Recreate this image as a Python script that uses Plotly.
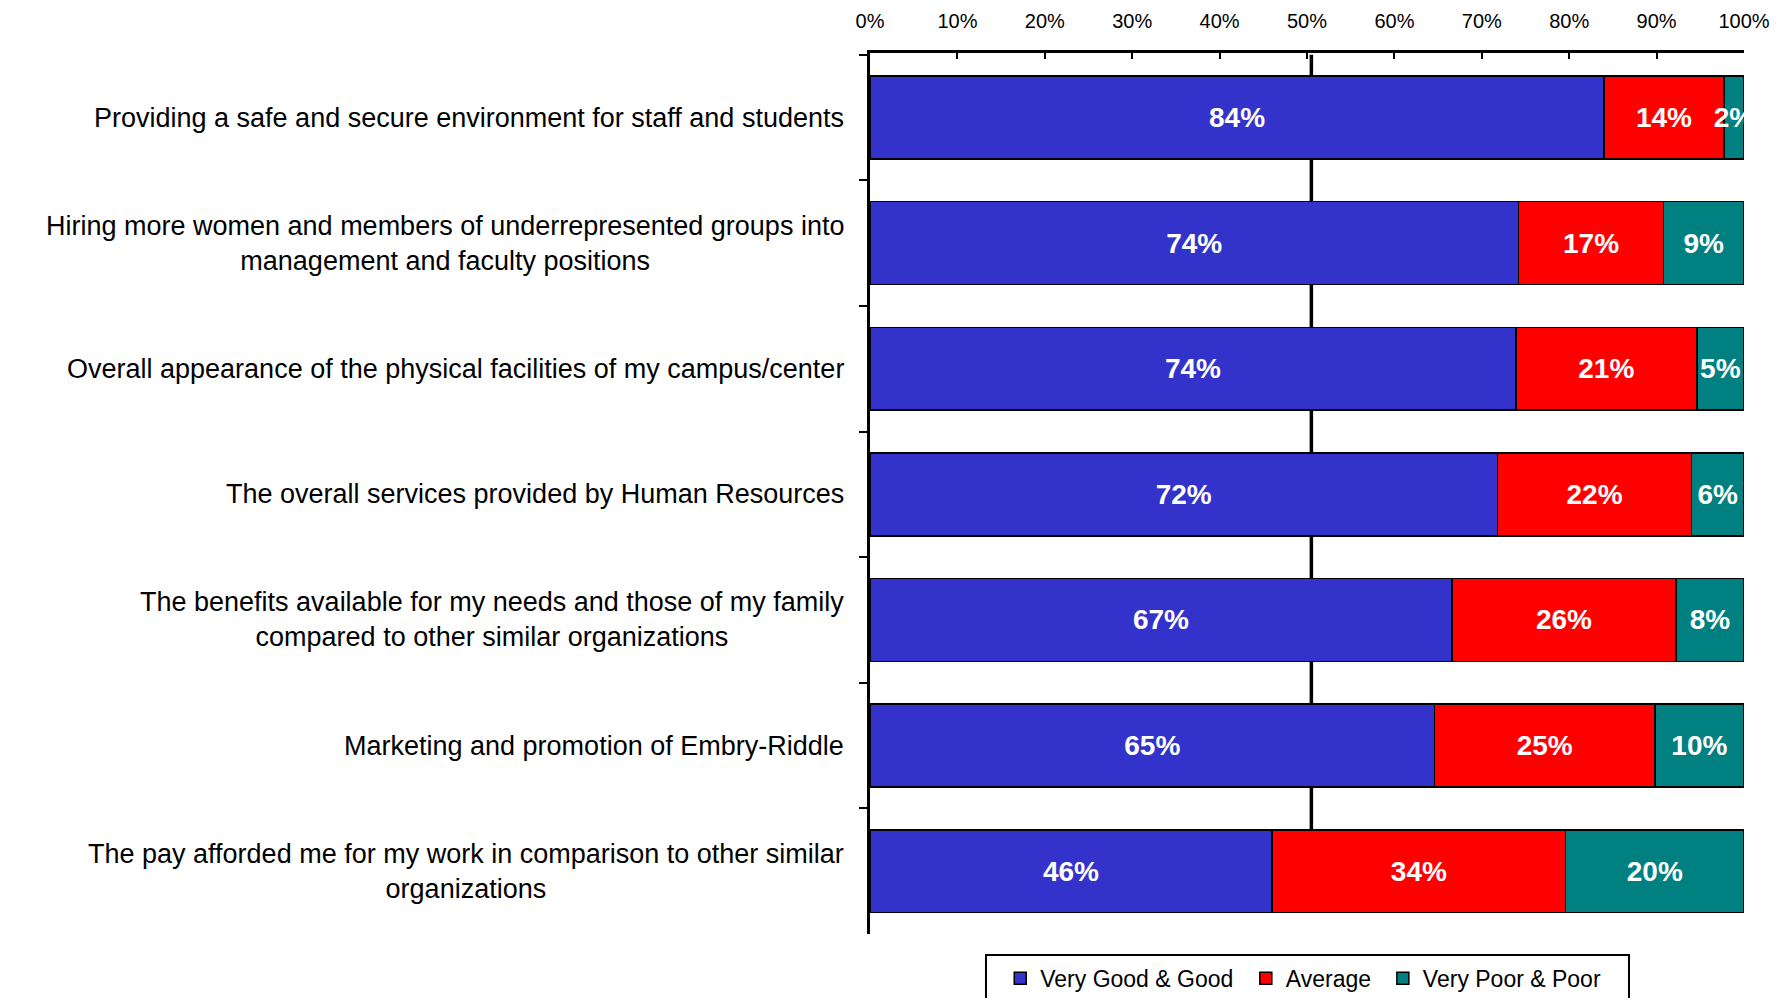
import plotly.graph_objects as go

categories = [
    "Providing a safe and secure environment for staff and students",
    "Hiring more women and members of underrepresented groups into<br>management and faculty positions",
    "Overall appearance of the physical facilities of my campus/center",
    "The overall services provided by Human Resources",
    "The benefits available for my needs and those of my family<br>compared to other similar organizations",
    "Marketing and promotion of Embry-Riddle",
    "The pay afforded me for my work in comparison to other similar<br>organizations",
]
series_names = ["Very Good & Good", "Average", "Very Poor & Poor"]
very_good_good = [84.0, 74.2, 73.9, 71.8, 66.6, 64.6, 46.0]
average = [13.7, 16.6, 20.7, 22.2, 25.6, 25.2, 33.6]
very_poor_poor = [2.3, 9.2, 5.4, 6.0, 7.8, 10.2, 20.4]
x_ticks = [0, 10, 20, 30, 40, 50, 60, 70, 80, 90, 100]
x_tick_labels = [f"{t}%" for t in x_ticks]

colors = ["#3333CC", "#FF0000", "#008080"]
legend_ids = ["legend", "legend2", "legend3"]
legend_x = [0.1490, 0.4300, 0.5868]
cat_ids = [f"c{i}" for i in range(len(categories))]
FONT = "Liberation Sans, Arial, sans-serif"

fig = go.Figure()
for name, vals, col, lg in zip(series_names, [very_good_good, average, very_poor_poor], colors, legend_ids):
    fig.add_trace(go.Bar(
        y=cat_ids, x=vals, name=name, orientation="h", legend=lg,
        marker=dict(color=col, line=dict(color="black", width=1.5)),
        texttemplate="%{x:.0f}%", textposition="inside", insidetextanchor="middle",
        textangle=0, constraintext="none", cliponaxis=True,
        textfont=dict(family=FONT, size=28, color="white", weight="bold"),
        hoverinfo="skip",
    ))

for cid, label in zip(cat_ids, categories):
    fig.add_annotation(
        x=0, xref="paper", y=cid, yref="y", text=label, showarrow=False,
        xanchor="right", yanchor="middle", align="center", xshift=-24,
        font=dict(family=FONT, size=27, color="black"),
    )

fig.add_shape(type="line", xref="x", yref="y", x0=50.5, x1=50.5, y0=-0.5, y1=6,
              line=dict(color="black", width=3.5), layer="below")
# legend frame
fig.add_shape(type="rect", xref="paper", yref="paper", x0=0.1327, x1=0.8684, y0=-0.0238, y1=-0.2,
              line=dict(color="black", width=2), fillcolor="rgba(0,0,0,0)")

legend_common = dict(
    orientation="h", y=-0.026, xanchor="left", yanchor="top",
    borderwidth=0, bgcolor="rgba(0,0,0,0)",
    font=dict(family=FONT, size=23, color="black"),
)

fig.update_layout(
    width=1786, height=998,
    margin=dict(l=870, r=42, t=53, b=64, autoexpand=False),
    paper_bgcolor="white", plot_bgcolor="white",
    barmode="stack", bargap=0.34,
    font=dict(family=FONT, color="black"),
    showlegend=True,
    legend=dict(x=legend_x[0], **legend_common),
    legend2=dict(x=legend_x[1], **legend_common),
    legend3=dict(x=legend_x[2], **legend_common),
    xaxis=dict(
        side="top", range=[0, 100], tickvals=x_ticks, ticktext=x_tick_labels,
        ticks="inside", ticklen=6, tickwidth=1.5, tickcolor="black",
        showline=True, linecolor="black", linewidth=2.5, showgrid=False, zeroline=False,
        tickfont=dict(family=FONT, size=20, color="black"), ticklabelstandoff=14,
        fixedrange=True,
    ),
    yaxis=dict(
        categoryorder="array", categoryarray=cat_ids, autorange="reversed",
        showticklabels=False, ticks="outside", tickson="boundaries", ticklen=8,
        tickwidth=1.5, tickcolor="black",
        showline=True, linecolor="black", linewidth=2.5, showgrid=False, zeroline=False,
        fixedrange=True,
    ),
)

fig.write_html("out.html")
